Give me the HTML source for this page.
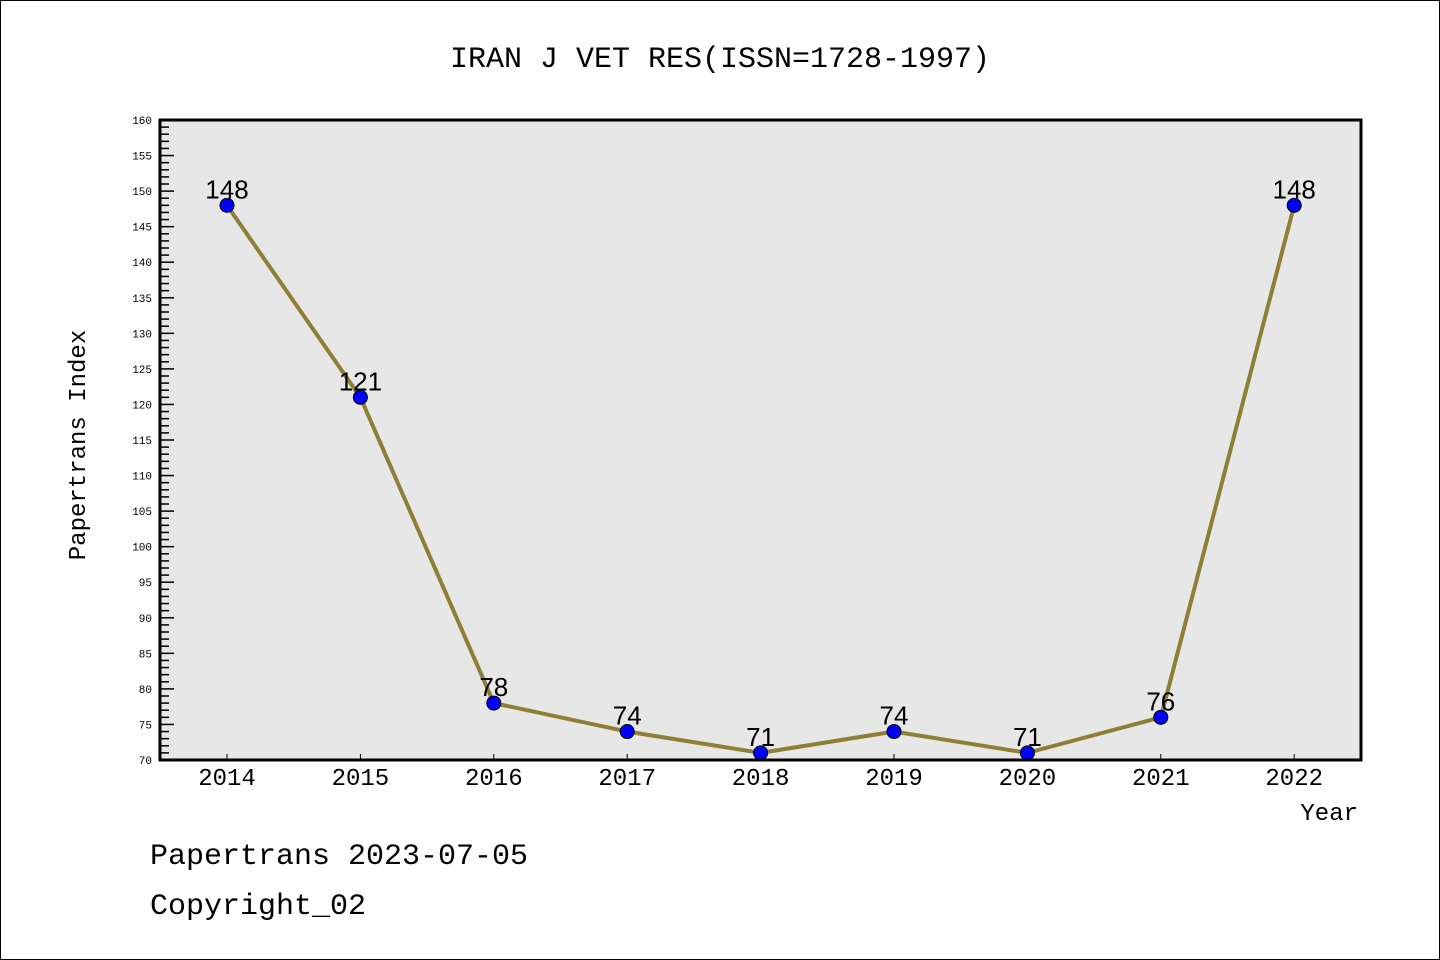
<!DOCTYPE html>
<html><head><meta charset="utf-8"><style>
body{margin:0;background:#fff}
svg{display:block}
text{font-family:"Liberation Mono","DejaVu Sans Mono",monospace}
</style></head><body>
<svg id="c" width="1440" height="960" xmlns="http://www.w3.org/2000/svg">
<rect x="0.5" y="0.5" width="1439" height="959" fill="#fff" stroke="#000"/>
<text x="720" y="67" font-size="30" text-anchor="middle">IRAN J VET RES(ISSN=1728-1997)</text>
<rect x="160" y="120" width="1201" height="640" fill="#e7e7e7"/>
<g id="axes"></g>
<g id="marks"></g>
<rect x="160" y="120" width="1201" height="640" fill="none" stroke="#000" stroke-width="3"/>
<text x="85" y="445" font-size="24" text-anchor="middle" transform="rotate(-90 85 445)">Papertrans Index</text>
<text x="1358" y="820" font-size="24" text-anchor="end">Year</text>
<text x="150" y="864" font-size="30">Papertrans 2023-07-05</text>
<text x="150" y="914" font-size="30">Copyright_02</text>
</svg>
<script>
const years=[2014,2015,2016,2017,2018,2019,2020,2021,2022];
const values=[148,121,78,74,71,74,71,76,148];
const yTicks=[70,75,80,85,90,95,100,105,110,115,120,125,130,135,140,145,150,155,160];
const NS="http://www.w3.org/2000/svg";
const X=i=>227+i*133.4;
const Y=v=>760-(v-70)/90*640;
function mk(tag,attrs,parent){const e=document.createElementNS(NS,tag);for(const k in attrs)e.setAttribute(k,attrs[k]);parent.appendChild(e);return e;}
const ax=document.getElementById('axes'),mg=document.getElementById('marks');
for(let v=70;v<=160;v++){
  const len=v%5===0?14:9;
  const t=mk('line',{x1:160,x2:160+len,y1:Y(v),y2:Y(v),stroke:'#000','stroke-width':1.5},ax);
  
  
}
yTicks.forEach(v=>{
  const t=mk('text',{x:152,y:Y(v)+4,'font-size':11,'text-anchor':'end'},ax);
  t.textContent=v;
  
  
});
years.forEach((yr,i)=>{
  const l=mk('line',{x1:X(i),x2:X(i),y1:760,y2:754,stroke:'#000','stroke-width':1},ax);
  
  
  const t=mk('text',{x:X(i),y:785,'font-size':24,'text-anchor':'middle'},ax);
  t.textContent=yr;
  
  
});
const pl=mk('polyline',{points:values.map((v,i)=>X(i)+','+Y(v)).join(' '),fill:'none',stroke:'#8f7f35','stroke-width':4},mg);


values.forEach((v,i)=>{
  const c=mk('circle',{cx:X(i),cy:Y(v),r:7,fill:'#0000ff',stroke:'#000','stroke-width':1},mg);
  
  
  const t=mk('text',{x:X(i),y:Y(v)-7,'font-size':26,'text-anchor':'middle',style:'font-family:"Liberation Sans",sans-serif'},mg);
  t.textContent=v;
  
  
});
</script>
</body></html>
